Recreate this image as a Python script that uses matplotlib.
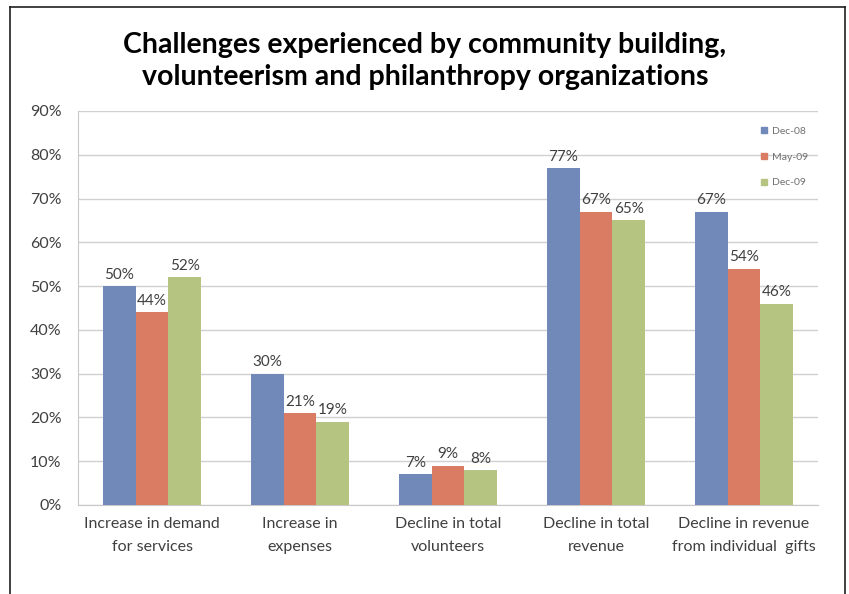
import matplotlib
matplotlib.use("Agg")
import matplotlib.pyplot as plt
import numpy as np
from matplotlib.lines import Line2D

categories = [
    "Increase in demand\nfor services",
    "Increase in\nexpenses",
    "Decline in total\nvolunteers",
    "Decline in total\nrevenue",
    "Decline in revenue\nfrom individual  gifts",
]
series_names = ["Dec-08", "May-09", "Dec-09"]
dec08 = [50, 30, 7, 77, 67]
may09 = [44, 21, 9, 67, 54]
dec09 = [52, 19, 8, 65, 46]
yticks = [0, 10, 20, 30, 40, 50, 60, 70, 80, 90]

colors = ["#7189B9", "#D97C63", "#B6C482"]
text_col = "#404040"

plt.rcParams["font.family"] = ["Lato", "DejaVu Sans"]

fig = plt.figure(figsize=(8.49, 5.94), dpi=100)
ax = fig.add_axes([78 / 849, 1 - 505 / 594, 740 / 849, 394 / 594])

x = np.arange(len(categories))
width = 0.222
for i, (name, vals) in enumerate(zip(series_names, [dec08, may09, dec09])):
    pos = x + (i - 1) * width
    bars = ax.bar(pos, vals, width, color=colors[i], label=name, zorder=3)
    for b, v in zip(bars, vals):
        ax.text(b.get_x() + b.get_width() / 2, v + 1.0, f"{v}%",
                ha="center", va="bottom", fontsize=11, color=text_col)

ax.set_xlim(-0.5, len(categories) - 0.5)
ax.set_ylim(0, 90)
ax.set_yticks(yticks)
ax.set_yticklabels([f"{t}%" for t in yticks], fontsize=11.5, color=text_col)
ax.set_xticks(x)
ax.set_xticklabels(categories, fontsize=11.5, color=text_col, linespacing=1.75)
ax.tick_params(axis="both", length=0)
ax.tick_params(axis="x", pad=9)
ax.tick_params(axis="y", pad=12)
ax.grid(axis="y", color="#D0D0D0", linewidth=1, zorder=0)
for s in ["top", "right"]:
    ax.spines[s].set_visible(False)
ax.spines["left"].set_color("#C8C8C8")
ax.spines["bottom"].set_color("#C8C8C8")

handles = [Line2D([0], [0], marker="s", linestyle="", markersize=4.5,
                  markerfacecolor=c, markeredgecolor=c) for c in colors]
leg = ax.legend(handles, series_names, loc="upper right",
                bbox_to_anchor=(1.0, 0.985), frameon=False, fontsize=7.5,
                labelspacing=1.6, handletextpad=0.3, handlelength=1.0,
                labelcolor="#707070")

fig.text(425 / 849, 1 - 61 / 594,
         "Challenges experienced by community building,\nvolunteerism and philanthropy organizations",
         ha="center", va="center", fontsize=20.5, fontweight="bold",
         color="#000000", linespacing=1.3)

# outer frame
fig.add_artist(Line2D([10 / 849, 10 / 849], [0, 1 - 7 / 594], transform=fig.transFigure,
                      color="#202020", linewidth=1.2))
fig.add_artist(Line2D([10 / 849, 845 / 849], [1 - 7 / 594, 1 - 7 / 594],
                      transform=fig.transFigure, color="#202020", linewidth=1.2))
fig.add_artist(Line2D([845 / 849, 845 / 849], [0, 1 - 7 / 594], transform=fig.transFigure,
                      color="#202020", linewidth=1.2))

fig.savefig("out.png", dpi=100)
